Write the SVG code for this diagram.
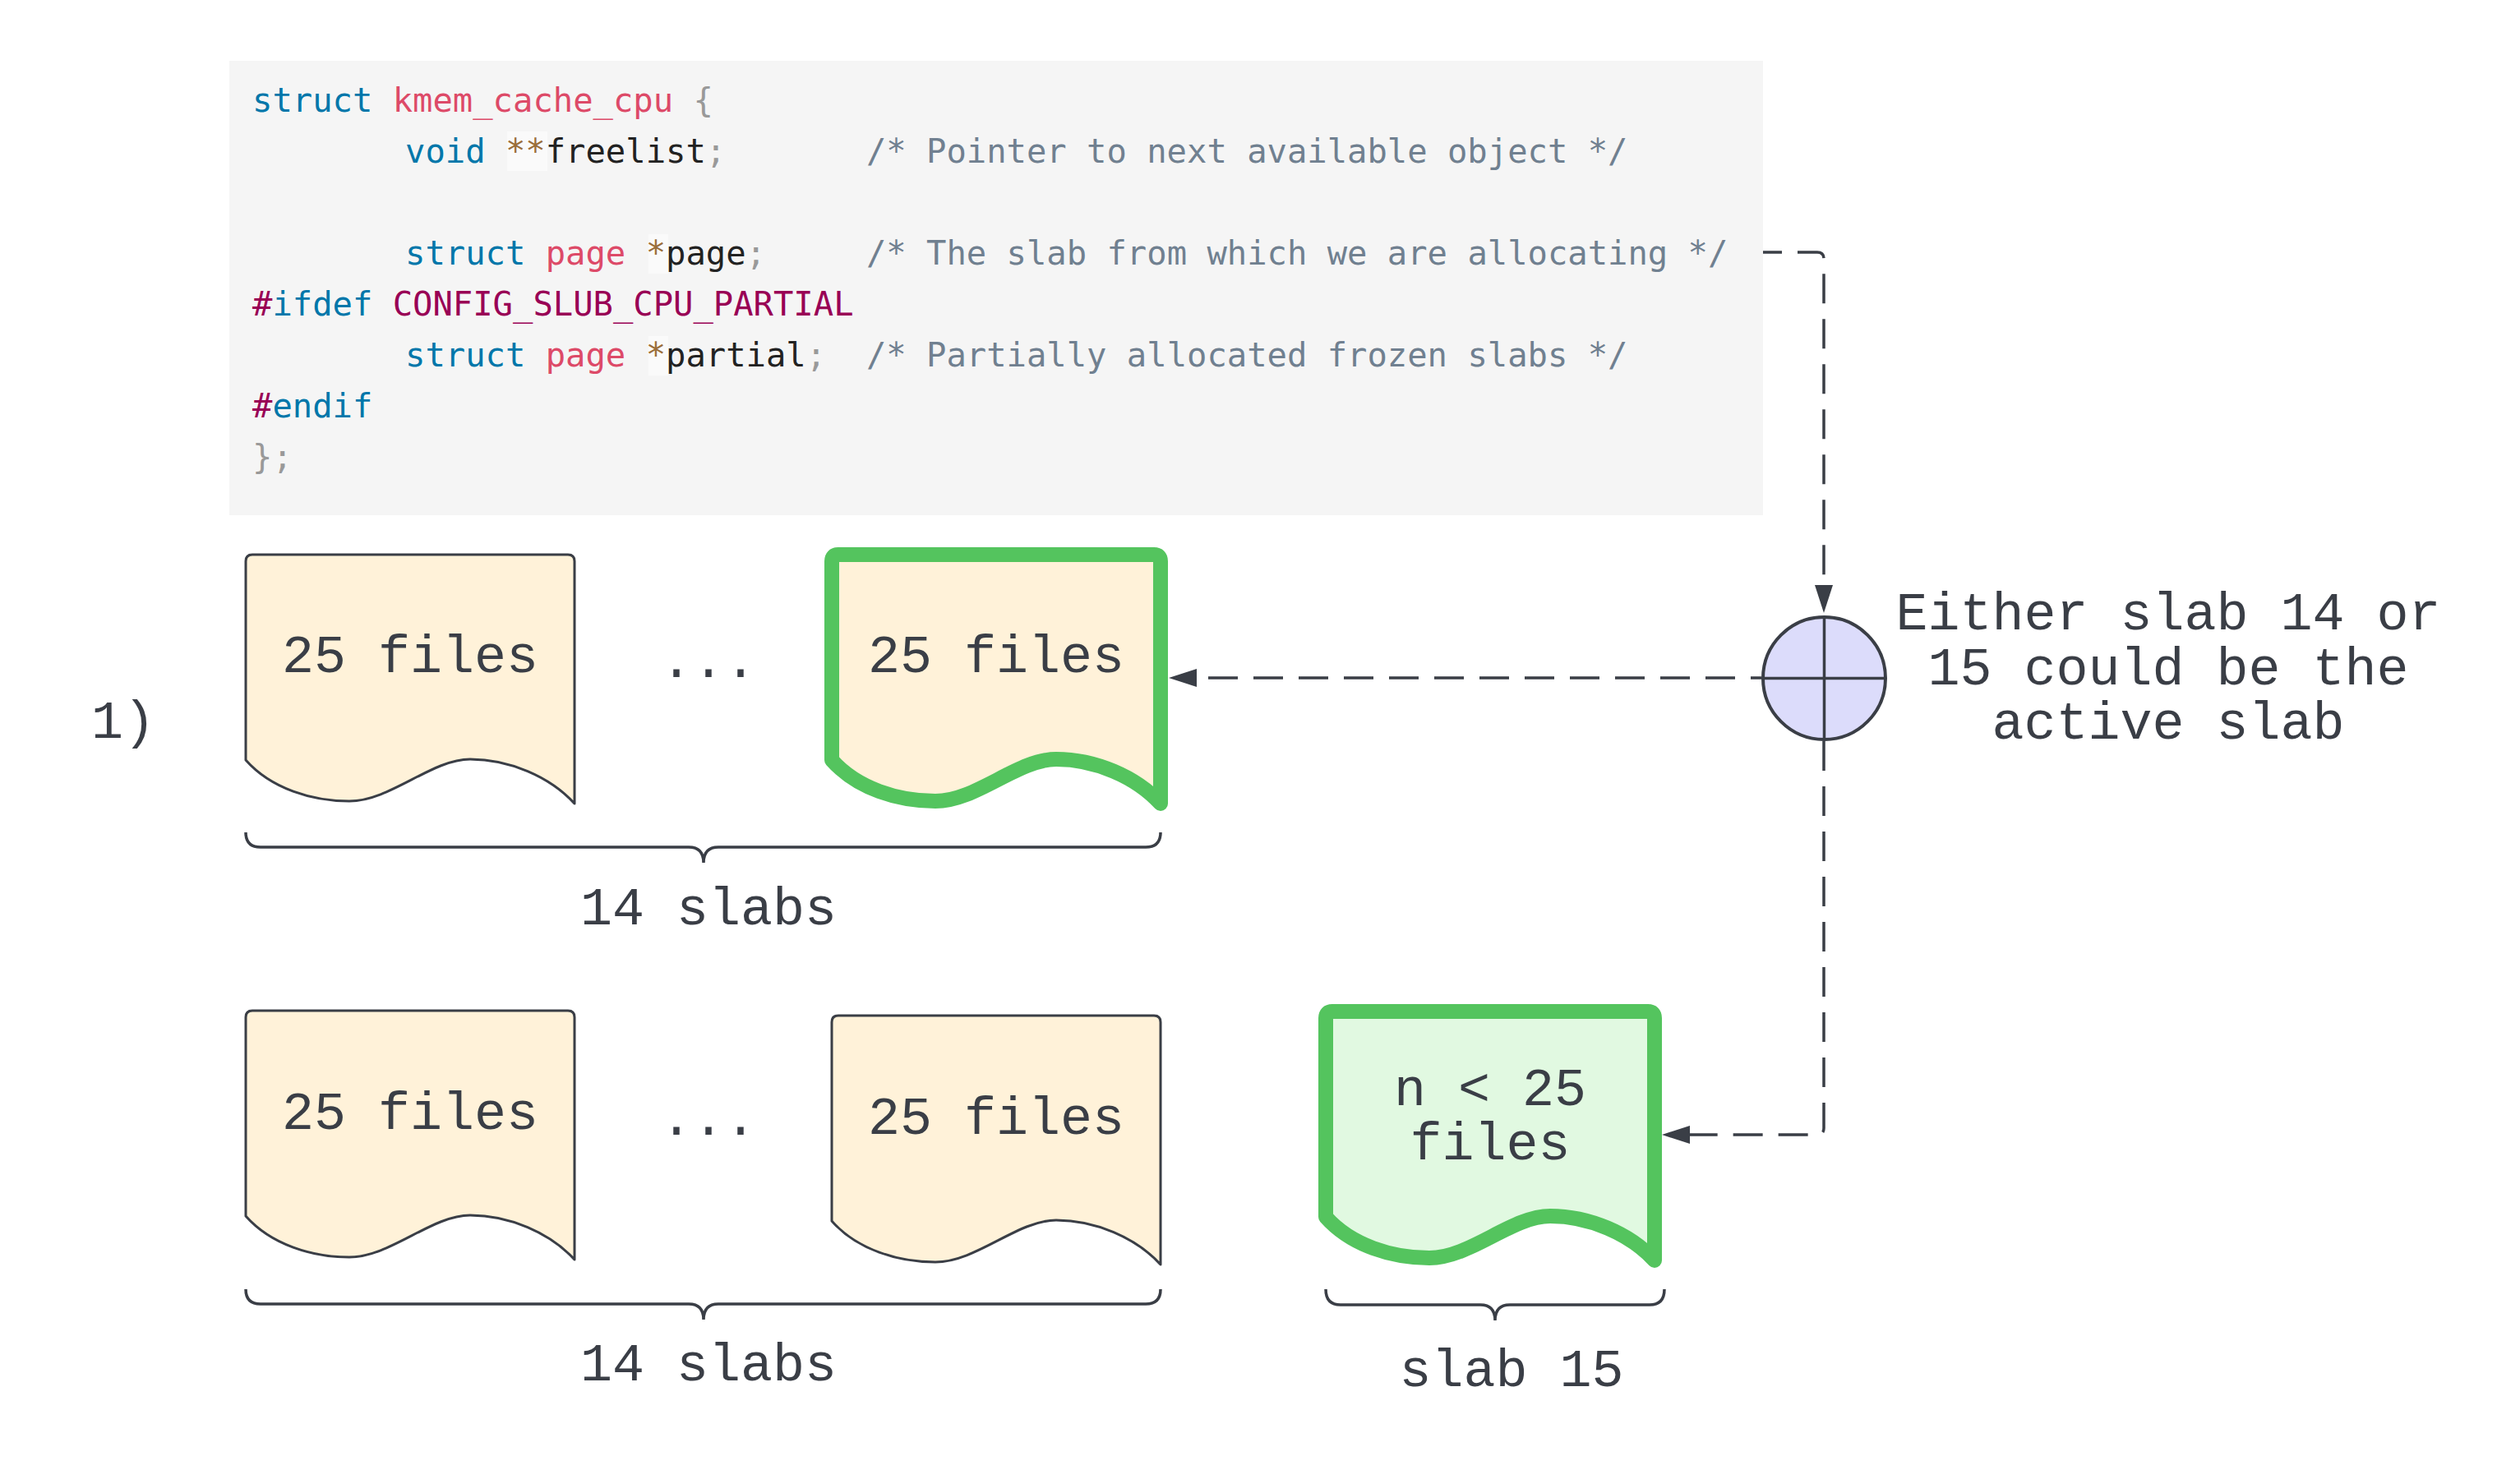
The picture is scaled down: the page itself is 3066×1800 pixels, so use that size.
<svg xmlns="http://www.w3.org/2000/svg" xmlns:xlink="http://www.w3.org/1999/xlink" width="3066" height="1800" viewBox="0 0 3066 1800">
  <style>
    .code { font-family: "DejaVu Sans Mono", "Liberation Mono", monospace; font-size: 40.5px; fill: #222; }
    .kw { fill: #0077aa; }
    .cn { fill: #dd4a68; }
    .pu { fill: #999999; }
    .op { fill: #9a6e3a; }
    .cm { fill: #708090; }
    .mc { fill: #990055; }
    .lbl { font-family: "Liberation Mono", "DejaVu Sans Mono", monospace; font-size: 65px; fill: #3a3e46; text-anchor: middle; }
    .doc { fill: #fff2d9; stroke: #3a3e46; stroke-width: 3; stroke-linejoin: round; }
    .doc-active { fill: #fff2d9; stroke: #54c45e; stroke-width: 18; stroke-linejoin: round; }
    .doc-new { fill: #e1f9e1; stroke: #54c45e; stroke-width: 18; stroke-linejoin: round; }
    .brace { fill: none; stroke: #3a3e46; stroke-width: 3.5; }
    .conn { fill: none; stroke: #3a3e46; stroke-width: 3.5; stroke-dasharray: 36 19; }
  </style>
  <defs>
    <path id="docShape" d="M0,250 V8 Q0,0 8,0 H392 Q400,0 400,8 V303 C370,270 320,249 273,249 C226,249 176,300 126,300 C81,300 31,285 0,250 Z"/>
    <marker id="arrow" markerUnits="userSpaceOnUse" markerWidth="34" markerHeight="22" viewBox="0 0 34 22" refX="0" refY="11" orient="auto">
      <path d="M0,0 L34,11 L0,22 Z" fill="#3a3e46"/>
    </marker>
  </defs>
  <rect width="3066" height="1800" fill="#ffffff"/>

  <g id="code">
    <rect x="279" y="74" width="1866" height="553" fill="#f5f5f5"/>
    <rect x="617" y="160" width="49" height="48" fill="#ffffff" fill-opacity="0.5"/>
    <rect x="789" y="285" width="24" height="48" fill="#ffffff" fill-opacity="0.5"/>
    <rect x="789" y="409" width="24" height="48" fill="#ffffff" fill-opacity="0.5"/>
    <text class="code" xml:space="preserve" x="307" y="136"><tspan class="kw">struct</tspan> <tspan class="cn">kmem_cache_cpu</tspan> <tspan class="pu">{</tspan></text>
    <text class="code" xml:space="preserve" x="493" y="198"><tspan class="kw">void</tspan> <tspan class="op">**</tspan>freelist<tspan class="pu">;</tspan>       <tspan class="cm">/* Pointer to next available object */</tspan></text>
    <text class="code" xml:space="preserve" x="493" y="322"><tspan class="kw">struct</tspan> <tspan class="cn">page</tspan> <tspan class="op">*</tspan>page<tspan class="pu">;</tspan>     <tspan class="cm">/* The slab from which we are allocating */</tspan></text>
    <text class="code" xml:space="preserve" x="307" y="384"><tspan class="mc">#</tspan><tspan class="kw">ifdef</tspan> <tspan class="mc">CONFIG_SLUB_CPU_PARTIAL</tspan></text>
    <text class="code" xml:space="preserve" x="493" y="446"><tspan class="kw">struct</tspan> <tspan class="cn">page</tspan> <tspan class="op">*</tspan>partial<tspan class="pu">;</tspan>  <tspan class="cm">/* Partially allocated frozen slabs */</tspan></text>
    <text class="code" xml:space="preserve" x="307" y="508"><tspan class="mc">#</tspan><tspan class="kw">endif</tspan></text>
    <text class="code" xml:space="preserve" x="307" y="570"><tspan class="pu">};</tspan></text>
  </g>

  <g id="label-1">
    <text class="lbl" x="150" y="898">1)</text>
  </g>

  <g id="slab-row1-first">
    <use xlink:href="#docShape" href="#docShape" x="299" y="675" class="doc"/>
    <text class="lbl" x="499" y="818">25 files</text>
  </g>
  <g id="dots-row1">
    <text class="lbl" x="862" y="824">...</text>
  </g>
  <g id="slab-row1-last">
    <use xlink:href="#docShape" href="#docShape" x="1012" y="675" class="doc-active"/>
    <text class="lbl" x="1212" y="818">25 files</text>
  </g>

  <g id="slab-row2-first">
    <use xlink:href="#docShape" href="#docShape" x="299" y="1230" class="doc"/>
    <text class="lbl" x="499" y="1374">25 files</text>
  </g>
  <g id="dots-row2">
    <text class="lbl" x="862" y="1381">...</text>
  </g>
  <g id="slab-row2-last">
    <use xlink:href="#docShape" href="#docShape" x="1012" y="1236" class="doc"/>
    <text class="lbl" x="1212" y="1380">25 files</text>
  </g>
  <g id="slab-15">
    <use xlink:href="#docShape" href="#docShape" x="1613" y="1231" class="doc-new"/>
    <text class="lbl" x="1813" y="1345">n &lt; 25</text>
    <text class="lbl" x="1813" y="1411">files</text>
  </g>

  <g id="brace-row1">
    <path class="brace" d="M299,1013 Q299,1031 317,1031 H838 Q856,1031 856,1050 Q856,1031 874,1031 H1394 Q1412,1031 1412,1013"/>
    <text class="lbl" x="862" y="1125">14 slabs</text>
  </g>
  <g id="brace-row2">
    <path class="brace" d="M299,1569 Q299,1587 317,1587 H838 Q856,1587 856,1606 Q856,1587 874,1587 H1394 Q1412,1587 1412,1569"/>
    <text class="lbl" x="862" y="1680">14 slabs</text>
  </g>
  <g id="brace-slab15">
    <path class="brace" d="M1613,1569 Q1613,1588 1631,1588 H1801 Q1819,1588 1819,1607 Q1819,1588 1837,1588 H2007 Q2025,1588 2025,1569"/>
    <text class="lbl" x="1839" y="1687">slab 15</text>
  </g>

  <g id="connectors">
    <path class="conn" stroke-dashoffset="13" d="M2145,307 H2211 Q2219,307 2219,315 V712" marker-end="url(#arrow)"/>
    <path class="conn" stroke-dashoffset="23" d="M2143,825 H1456" marker-end="url(#arrow)"/>
    <path class="conn" d="M2219,902 V1373 Q2219,1381 2211,1381 H2056" marker-end="url(#arrow)"/>
  </g>

  <g id="selector">
    <circle cx="2219.5" cy="825.5" r="74.5" fill="#dcdcfb" stroke="#3a3e46" stroke-width="4"/>
    <line x1="2219.5" y1="751" x2="2219.5" y2="900" stroke="#3a3e46" stroke-width="3.5"/>
    <line x1="2145" y1="825.5" x2="2294" y2="825.5" stroke="#3a3e46" stroke-width="3.5"/>
  </g>

  <g id="selector-label">
    <text class="lbl" x="2638" y="766">Either slab 14 or</text>
    <text class="lbl" x="2638" y="833">15 could be the</text>
    <text class="lbl" x="2638" y="899">active slab</text>
  </g>
</svg>
